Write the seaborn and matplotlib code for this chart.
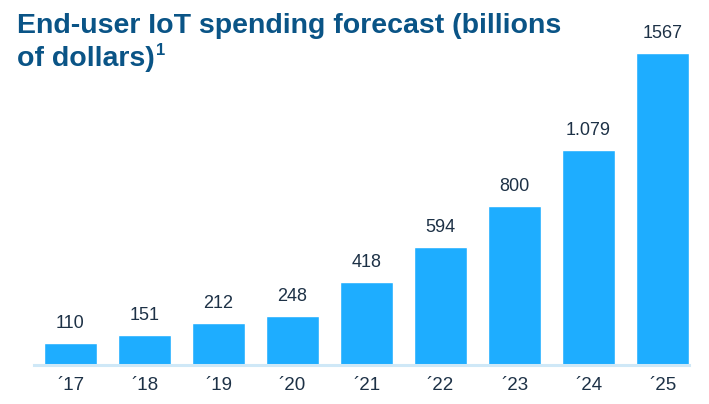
import matplotlib
matplotlib.use("Agg")
import matplotlib.pyplot as plt
import seaborn as sns
import pandas as pd

years = ["\u00b417", "\u00b418", "\u00b419", "\u00b420", "\u00b421", "\u00b422", "\u00b423", "\u00b424", "\u00b425"]
spending = [110, 151, 212, 248, 418, 594, 800, 1079, 1567]
value_labels = ["110", "151", "212", "248", "418", "594", "800", "1.079", "1567"]

title_line1 = "End-user IoT spending forecast (billions"
title_line2 = "of dollars)"
footnote_mark = "1"

BAR_BLUE = "#1eadff"
TITLE_BLUE = "#0a5486"
TEXT_DARK = "#1d3146"
BASE_LINE = "#cfe8f7"

sns.set_theme(style="white")
plt.rcParams["font.family"] = ["Liberation Sans", "DejaVu Sans"]

df = pd.DataFrame({"year": years, "spending": spending})

fig = plt.figure(figsize=(7.09, 4.04), dpi=100)
ax = fig.add_axes([34 / 709, 39 / 404, 655 / 709, 345 / 404])

sns.barplot(data=df, x="year", y="spending", color=BAR_BLUE, saturation=1,
            width=0.72, ax=ax)

ax.set_xlim(-0.493, 8.358)
ax.set_ylim(0, 1733)
for s in ["top", "right", "left"]:
    ax.spines[s].set_visible(False)
ax.spines["bottom"].set_color(BASE_LINE)
ax.spines["bottom"].set_linewidth(2.2)
ax.set_yticks([])
ax.set_xlabel("")
ax.set_ylabel("")
ax.tick_params(axis="x", length=0, pad=9, labelsize=13.5, labelcolor=TEXT_DARK)

for i, (v, lab) in enumerate(zip(spending, value_labels)):
    ax.annotate(lab, (i, v), xytext=(0, 8), textcoords="offset points",
                ha="center", va="bottom", fontsize=13, color=TEXT_DARK)

fig.text(17 / 709, 1 - 33 / 404, title_line1, fontsize=20.5, fontweight="bold",
         color=TITLE_BLUE, ha="left", va="baseline")
t2 = fig.text(17 / 709, 1 - 66 / 404, title_line2, fontsize=20.5, fontweight="bold",
              color=TITLE_BLUE, ha="left", va="baseline")
fig.canvas.draw()
bb = t2.get_window_extent()
fig.text(bb.x1 / fig.bbox.width + 1 / 709, 1 - 55 / 404, footnote_mark,
         fontsize=12, fontweight="bold", color=TITLE_BLUE, ha="left", va="baseline")

fig.savefig("out.png", dpi=100)
